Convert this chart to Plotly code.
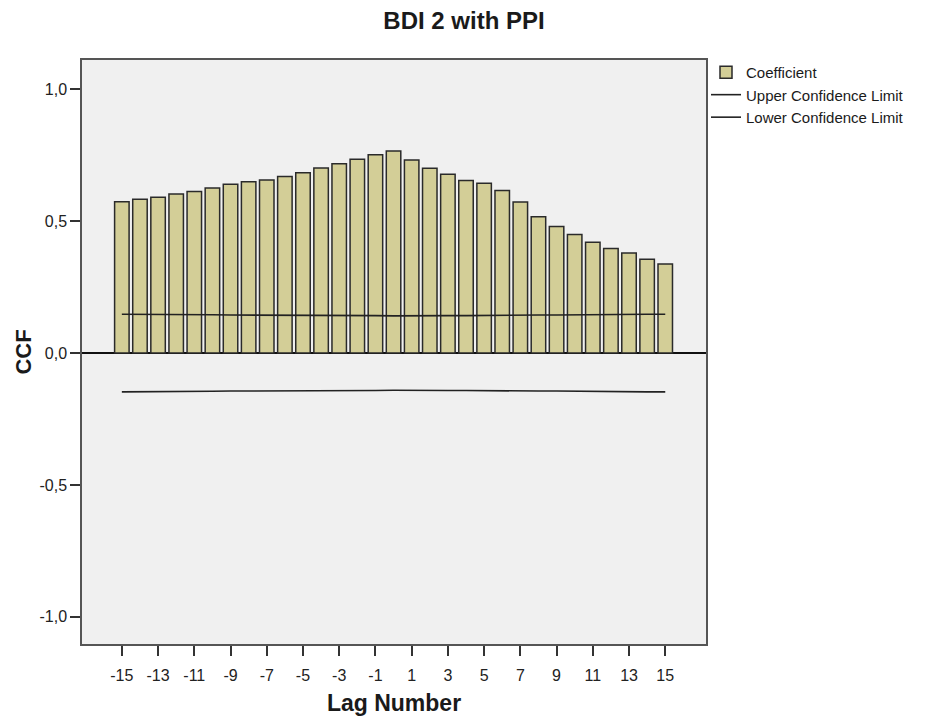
import plotly.graph_objects as go

lags = list(range(-15, 16))
coefficient = [0.574, 0.583, 0.591, 0.603, 0.612, 0.626, 0.640, 0.649, 0.656, 0.669,
               0.684, 0.702, 0.718, 0.735, 0.752, 0.766, 0.732, 0.701, 0.678, 0.654,
               0.644, 0.616, 0.573, 0.517, 0.480, 0.449, 0.420, 0.396, 0.379, 0.356, 0.338]
upper_limit = [0.147, 0.147, 0.146, 0.146, 0.145, 0.145, 0.144, 0.144, 0.143, 0.143,
               0.143, 0.142, 0.142, 0.142, 0.142, 0.141, 0.142, 0.142, 0.142, 0.142,
               0.143, 0.143, 0.143, 0.144, 0.144, 0.145, 0.145, 0.146, 0.146, 0.147, 0.147]
lower_limit = [-v for v in upper_limit]

x_tick_vals = list(range(-15, 16, 2))
x_tick_text = [str(v) for v in x_tick_vals]
y_tick_vals = [-1.0, -0.5, 0.0, 0.5, 1.0]
y_tick_text = ["-1,0", "-0,5", "0,0", "0,5", "1,0"]

FONT = "Liberation Sans, Arial, sans-serif"

fig = go.Figure()
fig.add_trace(go.Bar(
    x=lags, y=coefficient, name="Coefficient", width=0.8,
    marker=dict(color="#d3ce97", line=dict(color="#2a2a2a", width=1.5)),
))
fig.add_trace(go.Scatter(
    x=lags, y=upper_limit, name="Upper Confidence Limit", mode="lines",
    line=dict(color="#222222", width=1.6),
))
fig.add_trace(go.Scatter(
    x=lags, y=lower_limit, name="Lower Confidence Limit", mode="lines",
    line=dict(color="#222222", width=1.6),
))

fig.update_layout(
    width=928, height=722,
    margin=dict(l=82, r=222, t=60, b=78),
    paper_bgcolor="white", plot_bgcolor="#f0f0f0",
    font=dict(family=FONT, color="#222222"),
    title=dict(text="<b>BDI 2 with PPI</b>", x=0.5, xref="container", xanchor="center",
               y=0.972, yref="container", yanchor="middle",
               font=dict(size=24, family=FONT, color="#1a1a1a")),
    showlegend=True,
    legend=dict(x=1.0, xref="paper", xanchor="left", y=1.007, yanchor="top",
                font=dict(size=15, family=FONT, color="#1a1a1a"),
                bgcolor="rgba(0,0,0,0)", tracegroupgap=0, itemwidth=30),
    bargap=0.2,
)
fig.update_xaxes(
    range=[-17.2, 17.25], tickvals=x_tick_vals, ticktext=x_tick_text,
    ticks="outside", ticklen=10, tickwidth=1.5, tickcolor="#333333",
    ticklabelstandoff=6, automargin=False,
    showgrid=False, zeroline=False,
    showline=True, linecolor="#555555", linewidth=1.5, mirror=True,
    tickfont=dict(size=16, family=FONT, color="#222222"),
    title=dict(text="<b>Lag Number</b>", font=dict(size=23, family=FONT, color="#1a1a1a"), standoff=12),
)
fig.update_yaxes(
    range=[-1.103, 1.111], tickvals=y_tick_vals, ticktext=y_tick_text,
    ticks="outside", ticklen=10, tickwidth=1.5, tickcolor="#333333",
    automargin=False,
    showgrid=False, zeroline=True, zerolinecolor="#111111", zerolinewidth=1.6,
    showline=True, linecolor="#555555", linewidth=1.5, mirror=True,
    tickfont=dict(size=16, family=FONT, color="#222222"),
    title=dict(text="<b>CCF</b>", font=dict(size=22, family=FONT, color="#1a1a1a"), standoff=2),
)

fig.write_html("out.html")
